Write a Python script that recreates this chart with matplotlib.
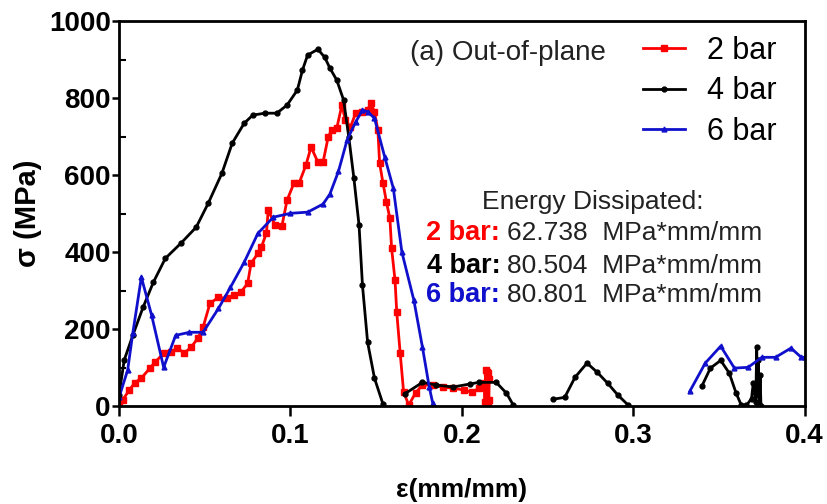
import numpy as np
import matplotlib
matplotlib.use("Agg")
import matplotlib.pyplot as plt
from matplotlib.ticker import MultipleLocator

nan = np.nan

# 2 bar (red, squares)
x2 = [0.0, 0.002, 0.006, 0.009, 0.013, 0.018, 0.021, 0.026, 0.030, 0.034, 0.038, 0.042,
      0.046, 0.049, 0.053, 0.058, 0.063, 0.067, 0.071, 0.075, 0.077, 0.081, 0.083, 0.086,
      0.087, 0.091, 0.095, 0.098, 0.102, 0.105, 0.109, 0.112, 0.116, 0.119, 0.122, 0.124,
      0.127, 0.130, 0.132, 0.135, 0.138, 0.142, 0.145, 0.147, 0.149, 0.151, 0.152, 0.154,
      0.156, 0.158, 0.159, 0.161, 0.162, 0.164, 0.166, 0.169, 0.173, 0.177, 0.183, 0.189,
      0.195, 0.201, 0.206, 0.210, 0.213, 0.2135, 0.214, 0.2143, 0.2147, 0.215, 0.2153,
      0.2157, 0.216]
y2 = [5, 16, 42, 60, 73, 99, 114, 138, 140, 151, 138, 153,
      177, 205, 267, 283, 280, 288, 296, 319, 371, 397, 413, 450,
      510, 470, 468, 535, 579, 579, 626, 673, 634, 634, 699, 717,
      722, 782, 743, 725, 761, 764, 770, 787, 764, 717, 631, 579,
      530, 488, 410, 327, 244, 138, 37, 3, 35, 55, 55, 49,
      47, 42, 36, 47, 60, 10, 95, 5, 90, 0, 85, 15, 70]

# 4 bar (black, dots)
x4 = [0.0, 0.003, 0.008, 0.014, 0.020, 0.027, 0.036, 0.045, 0.052, 0.060, 0.066, 0.073,
      0.078, 0.085, 0.092, 0.098, 0.104, 0.107, 0.110, 0.116, 0.120, 0.123, 0.127, 0.131,
      0.134, 0.137, 0.140, 0.142, 0.145, 0.149, 0.154, nan,
      0.167, 0.177, 0.185, 0.195, 0.205, 0.210, 0.220, 0.226, 0.230, nan,
      0.253, 0.260, 0.266, 0.273, 0.279, 0.285, 0.291, 0.297, nan,
      0.340, 0.345, 0.351, 0.356, 0.360, 0.363, 0.366, 0.369, 0.370, 0.3715, 0.372,
      0.3725, 0.373, 0.3735, 0.374, 0.3745]
y4 = [30, 120, 184, 257, 322, 384, 423, 465, 527, 605, 683, 735,
      756, 761, 761, 782, 821, 873, 912, 927, 906, 878, 847, 795,
      700, 592, 470, 314, 166, 73, 5, nan,
      33, 62, 55, 50, 58, 62, 62, 34, 3, nan,
      18, 23, 75, 112, 88, 60, 29, 3, nan,
      52, 99, 119, 86, 34, 3, 2, 20, 60, 10, 155,
      30, 120, 5, 80, 0]

# 6 bar (blue, triangles)
x6 = [0.0, 0.005, 0.008, 0.013, 0.019, 0.026, 0.033, 0.041, 0.049, 0.058, 0.065, 0.073,
      0.081, 0.090, 0.100, 0.110, 0.119, 0.123, 0.128, 0.133, 0.138, 0.142, 0.145, 0.149,
      0.155, 0.160, 0.165, 0.172, 0.177, 0.181, 0.183, nan,
      0.333, 0.342, 0.351, 0.359, 0.367, 0.375, 0.383, 0.392, 0.398, 0.400]
y6 = [23, 94, 190, 335, 236, 101, 184, 192, 192, 254, 309, 374,
      449, 491, 501, 504, 525, 551, 610, 691, 738, 769, 765, 748,
      647, 566, 400, 275, 153, 49, 8, nan,
      39, 112, 156, 99, 101, 127, 127, 151, 127, 127]

labels = ["2 bar", "4 bar", "6 bar"]
energies = ["62.738", "80.504", "80.801"]
red = "#ff0000"
blue = "#1010cc"

plt.rcParams["font.family"] = ["Liberation Sans", "DejaVu Sans"]

fig = plt.figure(figsize=(8.27, 5.04), dpi=100)
ax = fig.add_axes([0.144, 0.194, 0.829, 0.764])

ax.plot(x2, y2, color=red, lw=2, marker="s", ms=5, label=labels[0])
ax.plot(x4, y4, color="black", lw=2, marker="o", ms=3.5, label=labels[1])
ax.plot(x6, y6, color=blue, lw=2, marker="^", ms=3.5, label=labels[2])

ax.set_xlim(0, 0.4)
ax.set_ylim(0, 1000)
ax.yaxis.set_major_locator(MultipleLocator(200))
ax.yaxis.set_minor_locator(MultipleLocator(100))
ax.set_xticks([0, 0.1, 0.2, 0.3, 0.4], ["0.0", "0.1", "0.2", "0.3", "0.4"])
ax.tick_params(axis="x", which="major", direction="out", length=7, width=1.8,
               labelsize=20, pad=5)
ax.tick_params(axis="y", which="major", direction="out", length=5, width=1.8,
               labelsize=20, pad=1)
ax.tick_params(axis="y", which="minor", direction="in", length=5, width=1.5)
for lab in ax.get_xticklabels() + ax.get_yticklabels():
    lab.set_fontweight("bold")
for s in ax.spines.values():
    s.set_linewidth(2)

ax.set_xlabel("ε(mm/mm)", fontsize=19, fontweight="bold", labelpad=21)
ax.set_ylabel("σ (MPa)", fontsize=21, fontweight="bold", labelpad=5)

ax.legend(loc="upper left", bbox_to_anchor=(0.764, 0.962), frameon=False, fontsize=22,
          handlelength=1.37, handletextpad=0.72, labelspacing=0.35, borderpad=0,
          borderaxespad=0)

ax.text(0.425, 0.917, "(a) Out-of-plane", transform=ax.transAxes, fontsize=20,
        va="center", ha="left", color="#222222")
ax.text(0.691, 0.530, "Energy Dissipated:", transform=ax.transAxes, fontsize=19,
        va="center", ha="center", color="#222222")
colors = [red, "black", blue]
rows = [0.449, 0.364, 0.288]
for lab, en, c, yy in zip(labels, energies, colors, rows):
    ax.text(0.556, yy, lab + ":", transform=ax.transAxes, fontsize=19.5, fontweight="bold",
            color=c, va="center", ha="right")
    ax.text(0.566, yy, en + "  MPa*mm/mm", transform=ax.transAxes, fontsize=19,
            color="#222222", va="center", ha="left")

fig.savefig("out.png", dpi=100)
